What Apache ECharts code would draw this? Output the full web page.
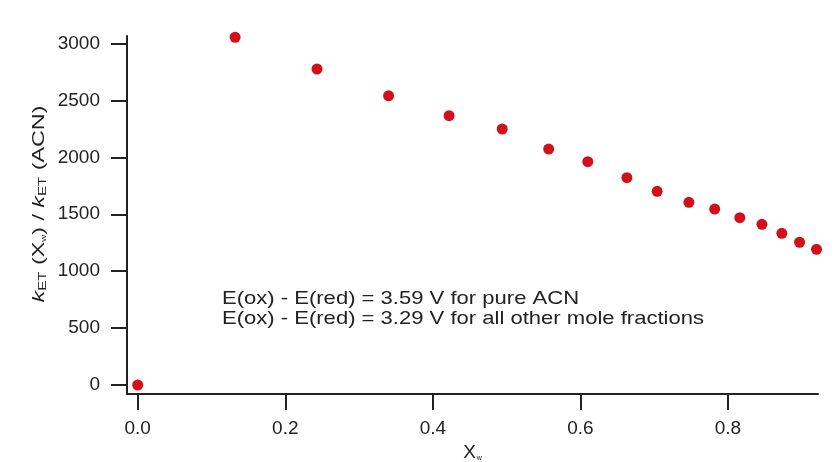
<!DOCTYPE html>
<html>
<head>
<meta charset="utf-8">
<title>kET ratio vs Xw</title>
<script src="https://cdn.jsdelivr.net/npm/echarts@6/dist/echarts.min.js"></script>
<style>
  html, body { margin: 0; padding: 0; background: #fff; }
  #chart { width: 839px; height: 462px; }
</style>
</head>
<body>
<div id="chart"></div>
<script>
// mole fraction of water and the rate ratio
const xw = [0, 0.132, 0.243, 0.340, 0.422, 0.494, 0.557, 0.610, 0.663, 0.704, 0.747, 0.782, 0.816, 0.846, 0.873, 0.897, 0.920];
const kRatio = [0, 3055, 2776, 2541, 2366, 2249, 2073, 1962, 1821, 1702, 1605, 1546, 1470, 1412, 1333, 1254, 1192];
const xTicks = [0, 0.2, 0.4, 0.6, 0.8];
const yTicks = [0, 500, 1000, 1500, 2000, 2500, 3000];
const noteLines = [
  'E(ox) - E(red) = 3.59 V for pure ACN',
  'E(ox) - E(red) = 3.29 V for all other mole fractions'
];

const font = 'Liberation Sans, Arial, Helvetica, sans-serif';
const ink = '#222';

const chart = echarts.init(document.getElementById('chart'));

chart.setOption({
  animation: false,
  textStyle: { fontFamily: font },
  grid: { left: 127, right: 21, top: 36, bottom: 68, outerBoundsMode: 'none', containLabel: false },
  xAxis: {
    type: 'value',
    min: -0.0145,
    max: 0.922,
    name: '{b|X}{s|w}',
    nameLocation: 'middle',
    nameGap: 39,
    nameTextStyle: {
      rich: {
        b: { fontSize: 19, color: ink, fontFamily: font, lineHeight: 20, verticalAlign: 'bottom' },
        s: { fontSize: 7, color: ink, fontFamily: font, lineHeight: 20, verticalAlign: 'bottom', padding: [0, 0, 0, 1] }
      }
    },
    axisLine: { onZero: false, lineStyle: { color: ink, width: 2 } },
    axisTick: { customValues: xTicks, length: 16, lineStyle: { color: ink, width: 2 } },
    axisLabel: {
      customValues: xTicks,
      margin: 25,
      fontSize: 19,
      color: ink,
      formatter: v => v.toFixed(1)
    },
    splitLine: { show: false }
  },
  yAxis: {
    type: 'value',
    min: -79,
    max: 3066,
    axisLine: { show: true, onZero: false, lineStyle: { color: ink, width: 2 } },
    axisTick: { show: true, customValues: yTicks, length: 16, lineStyle: { color: ink, width: 2 } },
    axisLabel: {
      customValues: yTicks,
      margin: 27,
      fontSize: 19,
      color: ink,
      formatter: v => String(v)
    },
    splitLine: { show: false }
  },
  graphic: [{
    // y axis title, drawn as graphic so it can be stretched like the original
    type: 'text',
    x: 38,
    y: 204,
    rotation: Math.PI / 2,
    scaleX: 1.37,
    style: {
      text: '{i|k}{s|ET}{b| (X}{w|w}{b|) / }{i|k}{s|ET}{b| (ACN)}',
      align: 'center',
      verticalAlign: 'middle',
      fill: ink,
      rich: {
        b: { fontSize: 17, fill: ink, fontFamily: font, lineHeight: 20, verticalAlign: 'bottom' },
        i: { fontSize: 17, fill: ink, fontFamily: font, fontStyle: 'italic', lineHeight: 20, verticalAlign: 'bottom' },
        s: { fontSize: 11, fill: ink, fontFamily: font, lineHeight: 17, verticalAlign: 'bottom' },
        w: { fontSize: 7, fill: ink, fontFamily: font, lineHeight: 17, verticalAlign: 'bottom' }
      }
    }
  }, {
    type: 'text',
    x: 222,
    y: 289,
    scaleX: 1.16,
    style: {
      text: noteLines.join('\n'),
      font: '19px ' + font,
      lineHeight: 20,
      fill: ink
    }
  }],
  series: [{
    type: 'scatter',
    data: xw.map((x, i) => [x, kRatio[i]]),
    symbol: 'circle',
    symbolSize: 11,
    itemStyle: { color: '#d2101a', opacity: 1 }
  }]
});
</script>
</body>
</html>
